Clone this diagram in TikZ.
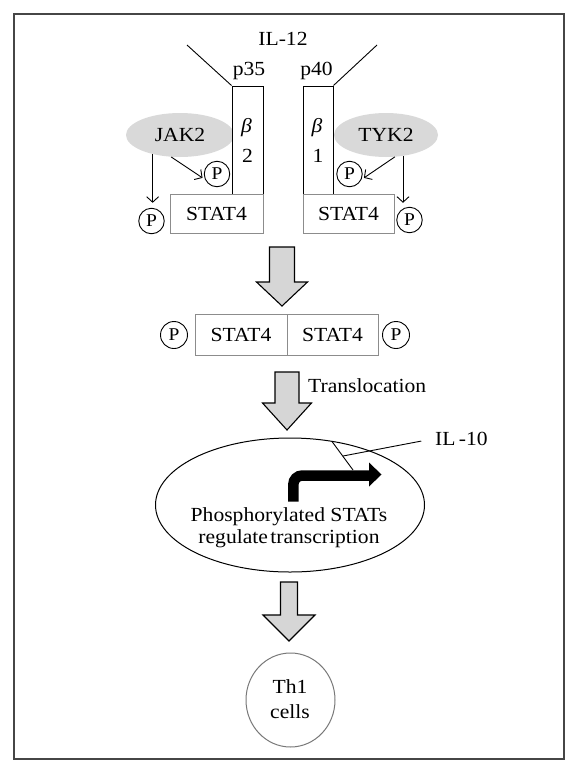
\documentclass[tikz,border=0pt]{standalone}
\usepackage{fontspec}
\setmainfont{Liberation Serif}[FakeStretch=1.08]
\usetikzlibrary{arrows.meta,shapes.geometric}
\definecolor{ellgray}{RGB}{217,217,217}
\definecolor{arrgray}{RGB}{214,214,214}
\definecolor{boxgray}{RGB}{140,140,140}
\definecolor{circgray}{RGB}{120,120,120}
\definecolor{framegray}{RGB}{70,70,70}
\newcommand\myblockarrow[6]{%
  \draw[blockarr] (#1-#3,#2) -- (#1+#3,#2) -- (#1+#3,#4) -- (#1+#5,#4) -- (#1,#6) -- (#1-#5,#4) -- (#1-#3,#4) -- cycle;}
\begin{document}
\begin{tikzpicture}[x=1pt,y=-1pt,
  txt/.style={font=\fontsize{20}{22}\selectfont, inner sep=0pt},
  pcirc/.style={circle, draw, line width=0.9pt, minimum size=25.5pt, inner sep=0pt, font=\fontsize{18}{20}\selectfont},
  graybox/.style={draw=boxgray, line width=1pt, fill=white, inner sep=0pt, font=\fontsize{20}{22}\selectfont},
  recbox/.style={draw, line width=1pt, fill=white, inner sep=0pt, minimum height=108pt},
  kinase/.style={ellipse, fill=ellgray, inner sep=0pt, font=\fontsize{20}{22}\selectfont},
  arr/.style={line width=0.9pt, -{Straight Barb[length=5.5pt,width=12pt]}},
  thin/.style={line width=0.9pt},
  blockarr/.style={draw, line width=1.1pt, fill=arrgray, line join=miter},
]
\useasboundingbox (0,0) rectangle (579,774);
\draw[framegray, line width=1.6pt] (14,14) rectangle (564,759);

% receptor
\node[txt, anchor=base] (il12) at (283,45) {IL-12};
\node[txt, anchor=base] (p35) at (249,75) {p35};
\node[txt, anchor=base] (p40) at (316.5,75) {p40};

\node[kinase, minimum width=108pt, minimum height=44pt] (jak) at (180,135) {JAK2};
\node[kinase, minimum width=104pt, minimum height=44pt] (tyk) at (386,135) {TYK2};

\node[recbox, minimum width=31pt] (b2) at (247.5,140) {};
\node[recbox, minimum width=30pt] (b1) at (318,140) {};
\node[txt, anchor=base] (beta2) at (246.5,132) {\itshape β};
\node[txt, anchor=base] (two) at (247.5,162) {2};
\node[txt, anchor=base] (beta1) at (317,132) {\itshape β};
\node[txt, anchor=base] (one) at (318,162) {1};

\coordinate (l1) at (187,45);
\coordinate (l2) at (377,45);
\draw[thin] (l1) -- (b2.north west);
\draw[thin] (b1.north east) -- (l2);

\node[graybox, minimum width=93pt, minimum height=39pt] (s1) at (216.5,213.5) {STAT4};
\node[graybox, minimum width=91pt, minimum height=39pt] (s2) at (348.5,213.5) {STAT4};

\node[pcirc] (p1) at (217,174) {P};
\node[pcirc] (p2) at (151.5,221) {P};
\node[pcirc] (p3) at (349.5,174) {P};
\node[pcirc] (p4) at (409.5,220) {P};

\draw[arr, shorten >=5pt] (jak.215) -- (jak.215 |- p2.north);
\draw[arr, shorten >=3pt] (jak.248) -- (p1.205);
\draw[arr, shorten >=3pt] (tyk.292) -- (p3.335);
\draw[arr, shorten >=4pt] (tyk.309) -- (tyk.309 |- p4.north);

% first block arrow
\myblockarrow{282}{247}{12.5}{282}{25.5}{306}

% dimer
\node[graybox, minimum width=92pt, minimum height=41pt] (s3) at (241,334.5) {STAT4};
\node[graybox, minimum width=91pt, minimum height=41pt] (s4) at (332.5,334.5) {STAT4};
\node[pcirc, minimum size=27pt] (p5) at (174,335) {P};
\node[pcirc, minimum size=27pt] (p6) at (396,335) {P};

% second block arrow
\myblockarrow{287}{372}{12}{403}{24.5}{430}
\node[txt, anchor=base west] (transl) at (308,392) {Translocation};

% nucleus
\node[ellipse, draw, line width=1pt, minimum width=269pt, minimum height=134pt, inner sep=0pt] (nuc) at (290,505) {};
\draw[line width=10.5pt, rounded corners=9pt] (293.3,501.7) |- (371,475.5);
\fill (369,462.5) -- (381.5,474.5) -- (369,486.5) -- cycle;
\node[txt, anchor=base] (t1) at (289,521) {Phosphorylated STATs};
\node[txt, anchor=base] (t2) at (289,543) {regulate\hspace{0.12em}transcription};

\node[txt, anchor=base west] (il10) at (435,445) {IL\,-10};
\coordinate (ca1) at (332,441.5);
\coordinate (ca2) at (353,470);
\coordinate (cb) at (343,456);
\draw[thin] (ca1) -- (ca2);
\draw[thin, shorten <=14pt] (il10.west) -- (cb);

% third block arrow
\myblockarrow{289}{582}{8.5}{615}{26}{641}

% Th1 cells
\node[ellipse, draw=circgray, line width=1pt, minimum width=89pt, minimum height=94pt, inner sep=0pt] (th1) at (290.5,700) {};
\node[txt, anchor=base] (th1a) at (290,693) {Th1};
\node[txt, anchor=base] (th1b) at (290,718) {cells};
\end{tikzpicture}
\end{document}
